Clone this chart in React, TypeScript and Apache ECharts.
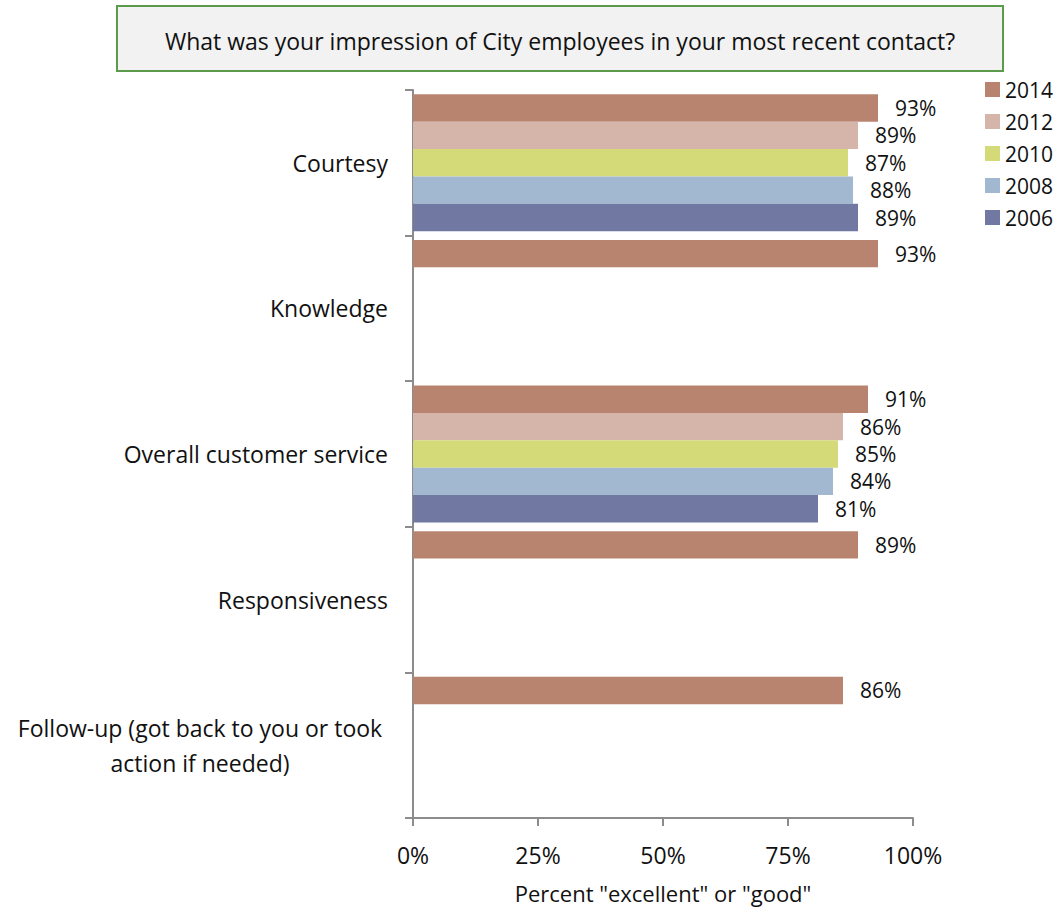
import React, { useEffect, useRef } from "react";
import * as echarts from "echarts";

const categories = [
  "Courtesy",
  "Knowledge",
  "Overall customer service",
  "Responsiveness",
  "Follow-up (got back to you or took\naction if needed)",
];
const years = ["2014", "2012", "2010", "2008", "2006"];
const v2014 = [93, 93, 91, 89, 86];
const v2012 = [89, null, 86, null, null];
const v2010 = [87, null, 85, null, null];
const v2008 = [88, null, 84, null, null];
const v2006 = [89, null, 81, null, null];
const xTicks = ["0%", "25%", "50%", "75%", "100%"];
const colors = ["#B8846F", "#D5B5A9", "#D4DA78", "#A2B8D0", "#7179A3"];
const titleText = "What was your impression of City employees in your most recent contact?";

const FONT = "'Open Sans', Lato, sans-serif";

export default function App() {
  const ref = useRef<HTMLDivElement>(null);
  useEffect(() => {
    if (!ref.current) return;
    const chart = echarts.init(ref.current, null, { renderer: "svg" });
    const values = [v2014, v2012, v2010, v2008, v2006];
    chart.setOption({
      animation: false,
      textStyle: { fontFamily: FONT },
      graphic: [
        {
          type: "rect",
          shape: { x: 117, y: 6, width: 886, height: 65 },
          style: { fill: "#F2F2F2", stroke: "#5B9B4B", lineWidth: 2 },
        },
        {
          type: "text",
          x: 560,
          y: 41,
          style: {
            text: titleText,
            fontFamily: FONT,
            fontSize: 23,
            fill: "#111",
            align: "center",
            verticalAlign: "middle",
          },
        },
      ],
      legend: {
        orient: "vertical",
        left: 980,
        top: 74,
        itemWidth: 15,
        itemHeight: 15,
        itemGap: 11,
        icon: "rect",
        data: years,
        textStyle: { fontFamily: FONT, fontSize: 21, color: "#111" },
      },
      grid: { left: 413, right: 149, top: 90, bottom: 91, outerBoundsMode: "none" },
      xAxis: {
        type: "value",
        min: 0,
        max: 100,
        interval: 25,
        axisLine: { show: true, lineStyle: { color: "#8C8C8C", width: 2 } },
        axisTick: { show: true, length: 8, lineStyle: { color: "#8C8C8C", width: 2 } },
        splitLine: { show: false },
        axisLabel: {
          margin: 25,
          fontSize: 23,
          color: "#111",
          fontFamily: FONT,
          formatter: (v: number) => xTicks[Math.round(v / 25)],
        },
        name: 'Percent "excellent" or "good"',
        nameLocation: "middle",
        nameGap: 64,
        nameTextStyle: { fontSize: 22, color: "#111", fontFamily: FONT },
      },
      yAxis: {
        type: "category",
        inverse: true,
        data: categories,
        axisLine: { show: true, lineStyle: { color: "#8C8C8C", width: 2 } },
        axisTick: { show: true, length: 8, lineStyle: { color: "#8C8C8C", width: 2 } },
        axisLabel: {
          margin: 25,
          fontSize: 23,
          color: "#111",
          fontFamily: FONT,
          formatter: (v: string) => {
            if (v.indexOf("\n") >= 0) {
              return v
                .split("\n")
                .map((l) => "{c|" + l + "}")
                .join("\n");
            }
            return v;
          },
          rich: {
            c: { width: 376, align: "center", fontSize: 23, lineHeight: 35, color: "#111", fontFamily: FONT },
          },
        },
      },
      series: years.map((y, i) => ({
        name: y,
        type: "bar",
        data: values[i],
        barGap: "0%",
        barCategoryGap: "6%",
        itemStyle: { color: colors[i] },
        label: {
          show: true,
          position: "right",
          distance: 17,
          fontSize: 21,
          color: "#111",
          fontFamily: FONT,
          formatter: (p: any) => (p.value == null ? "" : p.value + "%"),
        },
      })),
    });
    return () => chart.dispose();
  }, []);
  return (
    <div
      ref={ref}
      style={{ position: "absolute", left: 0, top: 0, width: 1062, height: 909 }}
    />
  );
}
